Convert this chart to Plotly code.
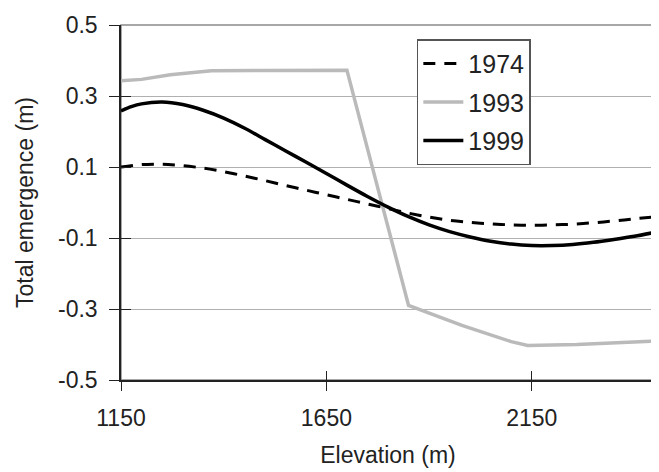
import plotly.graph_objects as go

elev_1974 = [1150, 1200, 1250, 1300, 1350, 1400, 1450, 1500, 1550, 1600, 1650, 1700, 1750, 1800,
             1850, 1900, 1950, 2000, 2050, 2100, 2150, 2200, 2250, 2300, 2350, 2400, 2450]
em_1974 = [0.100, 0.107, 0.108, 0.104, 0.097, 0.087, 0.075, 0.062, 0.048, 0.035, 0.022, 0.009, -0.004,
           -0.017, -0.030, -0.041, -0.050, -0.056, -0.060, -0.063, -0.064, -0.063, -0.061, -0.057,
           -0.052, -0.046, -0.040]

elev_1993 = [1150, 1170, 1200, 1270, 1370, 1500, 1600, 1700, 1850, 1980, 2100, 2140, 2260, 2450]
em_1993 = [0.343, 0.344, 0.347, 0.360, 0.371, 0.372, 0.372, 0.373, -0.290, -0.346, -0.392, -0.403,
           -0.400, -0.390]

elev_1999 = [1150, 1175, 1200, 1250, 1300, 1350, 1400, 1450, 1500, 1550, 1600, 1650, 1700, 1750,
             1800, 1850, 1900, 1950, 2000, 2050, 2100, 2150, 2200, 2250, 2300, 2350, 2400, 2450]
em_1999 = [0.258, 0.270, 0.278, 0.283, 0.276, 0.260, 0.238, 0.210, 0.178, 0.146, 0.114, 0.082, 0.049,
           0.017, -0.013, -0.040, -0.063, -0.082, -0.097, -0.109, -0.117, -0.121, -0.121, -0.118,
           -0.112, -0.104, -0.095, -0.084]

x_ticks = [1150, 1650, 2150]
y_ticks = [-0.5, -0.3, -0.1, 0.1, 0.3, 0.5]
y_labels = ["-0.5", "-0.3", "-0.1", "0.1", "0.3", "0.5"]

FONT = "Liberation Sans, Arial, Helvetica, sans-serif"

fig = go.Figure()
fig.add_trace(go.Scatter(x=elev_1974, y=em_1974, mode="lines", name="1974",
                         line=dict(color="black", width=3, dash="12px,9px", shape="spline", smoothing=0.8),
                         legendgroup="a"))
fig.add_trace(go.Scatter(x=elev_1993, y=em_1993, mode="lines", name="1993",
                         line=dict(color="#bababa", width=3.5), legendgroup="b"))
fig.add_trace(go.Scatter(x=elev_1999, y=em_1999, mode="lines", name="1999",
                         line=dict(color="black", width=3.5, shape="spline", smoothing=0.8),
                         legendgroup="c"))
# invisible trace for the inner tick overlay axes
fig.add_trace(go.Scatter(x=elev_1974, y=em_1974, xaxis="x2", yaxis="y2", mode="lines",
                         line=dict(color="rgba(0,0,0,0)"), showlegend=False, hoverinfo="skip"))

fig.add_shape(type="rect", xref="x domain", yref="y domain", x0=0, x1=1, y0=0, y1=1,
              line=dict(color="#8a8a8a", width=1.5), layer="below")

YR = [-0.5, 0.5002]

fig.update_layout(
    width=651, height=464,
    margin=dict(l=113, r=4, t=9, b=92),
    paper_bgcolor="white", plot_bgcolor="white",
    font=dict(family=FONT, size=23, color="#222"),
    showlegend=True,
    legend=dict(x=0.554, y=0.96, xanchor="left", yanchor="top",
                bgcolor="white", bordercolor="#555", borderwidth=1.5,
                font=dict(size=25, family=FONT, color="#222"),
                tracegroupgap=3, itemwidth=40, entrywidth=118, entrywidthmode="pixels"),
    xaxis=dict(range=[1150, 2450], tickvals=x_ticks, ticktext=[str(v) for v in x_ticks],
               showgrid=False, zeroline=False, showline=True, linecolor="#222", linewidth=1.5,
               ticks="outside", ticklen=9, tickwidth=1.2, tickcolor="#222",
               ticklabelstandoff=8, tickfont=dict(size=23), ticklabeloverflow="allow",
               title=dict(text="Elevation (m)", standoff=17, font=dict(size=23))),
    yaxis=dict(range=YR, tickvals=y_ticks, ticktext=y_labels,
               showgrid=True, gridcolor="#b0b0b0", gridwidth=1, zeroline=False,
               showline=True, linecolor="#222", linewidth=1.5,
               ticks="outside", ticklen=10, tickwidth=1.2, tickcolor="#222",
               ticklabelstandoff=7, tickfont=dict(size=23), ticklabeloverflow="allow",
               title=dict(text="Total emergence (m)", standoff=18, font=dict(size=23))),
    xaxis2=dict(overlaying="x", matches="x", anchor="y", side="bottom", showgrid=False,
                zeroline=False, showline=False, tickvals=x_ticks, showticklabels=False,
                ticks="inside", ticklen=9, tickwidth=1.2, tickcolor="#222"),
    yaxis2=dict(overlaying="y", matches="y", anchor="x", side="left", showgrid=False,
                zeroline=False, showline=False, tickvals=y_ticks, showticklabels=False,
                ticks="inside", ticklen=10, tickwidth=1.2, tickcolor="#222"),
)

fig.write_html("out.html")
